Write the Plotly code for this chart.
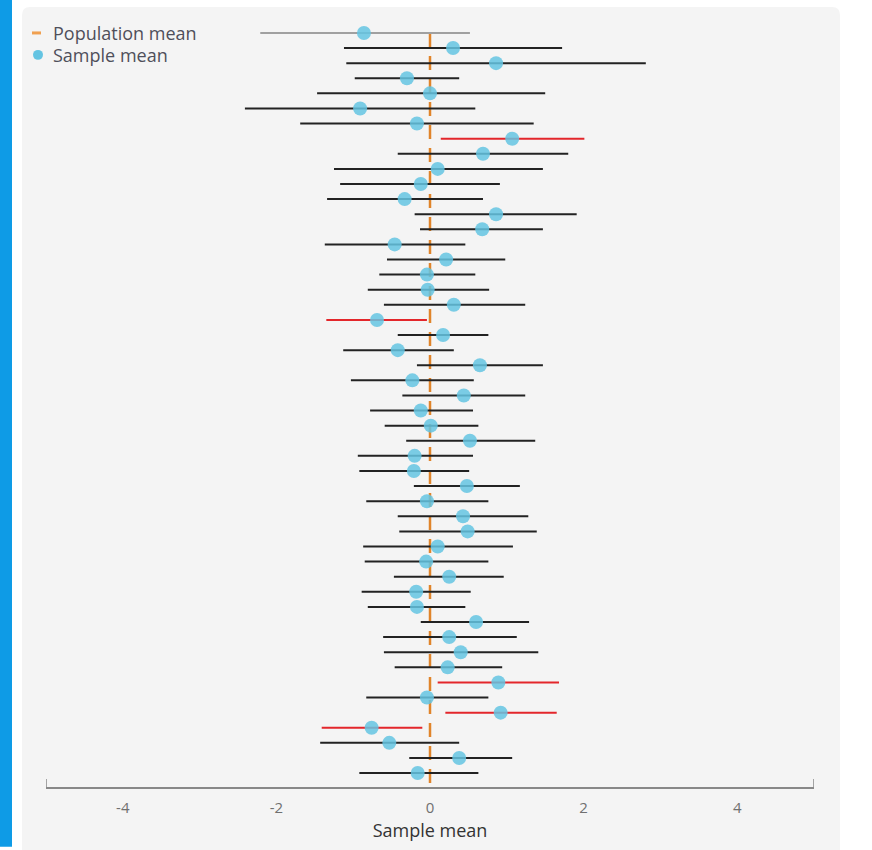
import plotly.graph_objects as go

# ---- data ----
population_mean = 0.0
ci_low = [-2.21, -1.12, -1.09, -0.98, -1.47, -2.41, -1.69, 0.14, -0.42, -1.25,
          -1.17, -1.34, -0.20, -0.13, -1.37, -0.56, -0.66, -0.81, -0.60, -1.35,
          -0.42, -1.13, -0.17, -1.03, -0.36, -0.78, -0.59, -0.31, -0.94, -0.92,
          -0.21, -0.83, -0.42, -0.40, -0.87, -0.85, -0.47, -0.89, -0.81, -0.12,
          -0.61, -0.60, -0.46, 0.10, -0.83, 0.20, -1.41, -1.43, -0.27, -0.92]
ci_high = [0.52, 1.72, 2.81, 0.38, 1.50, 0.59, 1.35, 2.01, 1.80, 1.47,
           0.91, 0.69, 1.91, 1.47, 0.46, 0.98, 0.59, 0.77, 1.24, -0.04,
           0.76, 0.31, 1.47, 0.57, 1.24, 0.56, 0.63, 1.37, 0.56, 0.51,
           1.17, 0.76, 1.28, 1.39, 1.08, 0.76, 0.96, 0.53, 0.46, 1.29,
           1.13, 1.41, 0.94, 1.68, 0.76, 1.65, -0.10, 0.38, 1.07, 0.63]
sample_means = [-0.86, 0.30, 0.86, -0.30, 0.00, -0.91, -0.17, 1.07, 0.69, 0.10,
                -0.12, -0.33, 0.86, 0.68, -0.46, 0.21, -0.04, -0.03, 0.31, -0.69,
                0.17, -0.42, 0.65, -0.23, 0.44, -0.12, 0.01, 0.52, -0.20, -0.21,
                0.48, -0.04, 0.43, 0.49, 0.10, -0.05, 0.25, -0.18, -0.17, 0.60,
                0.25, 0.40, 0.23, 0.89, -0.04, 0.92, -0.76, -0.53, 0.38, -0.16]
x_ticks = [-4, -2, 0, 2, 4]
x_range = [-5, 5]
legend_labels = ["Population mean", "Sample mean"]

n = len(sample_means)
rows = list(range(n))

# group interval lines by status: latest sample (grey), misses (red), covers (black)
groups = {"latest": ([], []), "miss": ([], []), "hit": ([], [])}
for i, (lo, hi) in enumerate(zip(ci_low, ci_high)):
    if i == 0:
        key = "latest"
    elif lo > population_mean or hi < population_mean:
        key = "miss"
    else:
        key = "hit"
    gx, gy = groups[key]
    gx += [lo, hi, None]
    gy += [i, i, None]

colors = {"latest": "#a0a0a0", "miss": "#e3262b", "hit": "#222222"}

W, H = 872, 850
L, R = 46, 814
PLOT_TOP, PLOT_BOTTOM = 20, 790
ROW0_PX, ROWN_PX = 33, 776
step = (ROWN_PX - ROW0_PX) / (n - 1)
y_top = -(ROW0_PX - PLOT_TOP) / step
y_bottom = (n - 1) + (PLOT_BOTTOM - ROWN_PX) / step
pw = R - L
ph = PLOT_BOTTOM - PLOT_TOP


def px(x):
    return (x - L) / pw


def py(y):
    return (PLOT_BOTTOM - y) / ph


fig = go.Figure()

# population mean dashed line
fig.add_trace(go.Scatter(
    x=[population_mean, population_mean], y=[0, y_bottom], mode="lines",
    line=dict(color="#e0842a", width=2.5, dash="14px,9px"),
    showlegend=False, hoverinfo="skip"))

for key in ["hit", "miss", "latest"]:
    gx, gy = groups[key]
    fig.add_trace(go.Scatter(
        x=gx, y=gy, mode="lines",
        line=dict(color=colors[key], width=2),
        showlegend=False, hoverinfo="skip"))

fig.add_trace(go.Scatter(
    x=sample_means, y=rows, mode="markers", name="Sample mean",
    marker=dict(size=14, color="rgba(100,196,226,0.85)", line=dict(width=0)),
    showlegend=False))

# rounded panel path
x0, x1, y0, y1 = 22, 840, 7, 870
r = 8
path = (f"M {px(x0 + r)},{py(y0)} L {px(x1 - r)},{py(y0)} "
        f"Q {px(x1)},{py(y0)} {px(x1)},{py(y0 + r)} "
        f"L {px(x1)},{py(y1)} L {px(x0)},{py(y1)} "
        f"L {px(x0)},{py(y0 + r)} Q {px(x0)},{py(y0)} {px(x0 + r)},{py(y0)} Z")

shapes = [
    dict(type="path", xref="paper", yref="paper", path=path,
         fillcolor="#f4f4f4", line=dict(width=0), layer="below"),
    dict(type="rect", xref="paper", yref="paper",
         x0=px(0), x1=px(12), y0=py(H), y1=py(0),
         fillcolor="#0e9be6", line=dict(width=0), layer="below"),
]
for xv in x_range:
    shapes.append(dict(type="line", xref="x", yref="paper",
                       x0=xv, x1=xv, y0=0, y1=8 / ph,
                       line=dict(color="#888888", width=1.5)))

# legend (drawn manually to match spacing)
LEG_Y = [33, 55]
shapes.append(dict(type="line", xref="paper", yref="paper",
                   x0=px(32), x1=px(41), y0=py(LEG_Y[0]), y1=py(LEG_Y[0]),
                   line=dict(color="#f0a050", width=3)))
shapes.append(dict(type="circle", xref="paper", yref="paper",
                   x0=px(33), x1=px(43), y0=py(LEG_Y[1] - 5), y1=py(LEG_Y[1] + 5),
                   fillcolor="#64c4e2", line=dict(width=0)))
annotations = []
for label, ly in zip(legend_labels, LEG_Y):
    annotations.append(dict(text=label, xref="paper", yref="paper",
                            x=px(51), y=py(ly), xanchor="left", yanchor="middle",
                            showarrow=False,
                            font=dict(size=18, color="#4f4f5a")))

fig.update_layout(
    width=W, height=H,
    margin=dict(l=L, r=W - R, t=PLOT_TOP, b=H - PLOT_BOTTOM),
    paper_bgcolor="white", plot_bgcolor="rgba(0,0,0,0)",
    font=dict(family="Open Sans", color="#555555"),
    shapes=shapes, annotations=annotations,
    showlegend=False,
    xaxis=dict(range=x_range, tickvals=x_ticks, ticktext=[str(t) for t in x_ticks],
               showgrid=False, zeroline=False, showline=True,
               linecolor="#888888", linewidth=2,
               ticks="outside", ticklen=6, tickcolor="rgba(0,0,0,0)",
               tickfont=dict(size=15, color="#707070"),
               title=dict(text="Sample mean", font=dict(size=18, color="#333333"),
                          standoff=8)),
    yaxis=dict(range=[y_bottom, y_top], visible=False, showgrid=False,
               zeroline=False),
)

fig.write_html("out.html", config={"displayModeBar": False},
               post_script="document.body.style.margin='0px';")
